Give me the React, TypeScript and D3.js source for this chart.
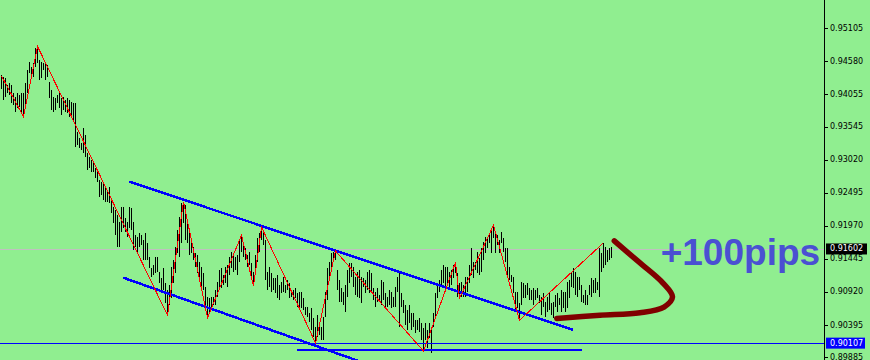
import React, { useEffect } from 'react';
import * as d3 from 'd3';

// ---- data (prices) ----
const highs = [
  0.9436, 0.9433, 0.9432, 0.9420, 0.9424, 0.9420, 0.9408, 0.9401, 0.9408, 0.9405,
  0.9408, 0.9408, 0.9424, 0.9444, 0.9457, 0.9449, 0.9455, 0.9479, 0.9482, 0.9460,
  0.9457, 0.9455, 0.9457, 0.9452, 0.9425, 0.9413, 0.9401, 0.9400, 0.9405, 0.9409,
  0.9400, 0.9401, 0.9397, 0.9400, 0.9397, 0.9393, 0.9392, 0.9392, 0.9346, 0.9336,
  0.9328, 0.9352, 0.9341, 0.9313, 0.9306, 0.9301, 0.9297, 0.9289, 0.9286, 0.9270,
  0.9266, 0.9265, 0.9257, 0.9251, 0.9259, 0.9238, 0.9227, 0.9222, 0.9214, 0.9203,
  0.9227, 0.9227, 0.9209, 0.9203, 0.9227, 0.9225, 0.9203, 0.9182, 0.9179, 0.9186,
  0.9182, 0.9174, 0.9186, 0.9170, 0.9147,
  0.9130, 0.9135, 0.9147, 0.9147, 0.9124, 0.9114, 0.9130, 0.9106, 0.9095, 0.9103,
  0.9132, 0.9143, 0.9163, 0.9190, 0.9211, 0.9233, 0.9235, 0.9230, 0.9201, 0.9186,
  0.9171, 0.9163, 0.9154, 0.9151, 0.9139, 0.9132, 0.9122, 0.9100, 0.9084, 0.9082,
  0.9084, 0.9084, 0.9095, 0.9108, 0.9127, 0.9130, 0.9119, 0.9132, 0.9135, 0.9147,
  0.9155, 0.9151, 0.9147, 0.9151, 0.9174, 0.9182, 0.9166, 0.9162, 0.9151, 0.9155,
  0.9138, 0.9124, 0.9151, 0.9178, 0.9186, 0.9195, 0.9190, 0.9174, 0.9124, 0.9132,
  0.9122, 0.9114, 0.9114, 0.9119, 0.9103, 0.9108, 0.9116, 0.9103, 0.9111, 0.9106,
  0.9095, 0.9095, 0.9098, 0.9090, 0.9092, 0.9092, 0.9082, 0.9068, 0.9068, 0.9058,
  0.9066, 0.9051, 0.9036, 0.9055, 0.9043, 0.9036, 0.9052, 0.9092, 0.9130, 0.9139,
  0.9154, 0.9155, 0.9157, 0.9127, 0.9111, 0.9098, 0.9092, 0.9103, 0.9127, 0.9138,
  0.9138, 0.9132, 0.9116, 0.9124, 0.9127, 0.9116, 0.9114, 0.9111, 0.9124, 0.9127,
  0.9122, 0.9098, 0.9092, 0.9098, 0.9087, 0.9111, 0.9108, 0.9090, 0.9084, 0.9095,
  0.9092, 0.9084, 0.9100, 0.9116, 0.9122, 0.9090, 0.9079, 0.9071, 0.9063, 0.9071,
  0.9058, 0.9058, 0.9047, 0.9047, 0.9051, 0.9043, 0.9035, 0.9043, 0.9032, 0.9043,
  0.9036, 0.9058, 0.9090, 0.9106, 0.9111, 0.9127, 0.9135, 0.9132, 0.9132, 0.9124,
  0.9127, 0.9135, 0.9139, 0.9122, 0.9106, 0.9108, 0.9103,
  0.9116, 0.9116, 0.9135, 0.9162, 0.9139, 0.9139, 0.9155, 0.9146, 0.9162, 0.9171,
  0.9179, 0.9178, 0.9182, 0.9190, 0.9198, 0.9187, 0.9182, 0.9174, 0.9187, 0.9178,
  0.9162, 0.9162, 0.9132, 0.9119, 0.9116, 0.9092, 0.9092, 0.9074, 0.9108, 0.9106,
  0.9103, 0.9106, 0.9098, 0.9095, 0.9098, 0.9095, 0.9098, 0.9087, 0.9084, 0.9090,
  0.9076, 0.9084, 0.9090, 0.9074, 0.9076, 0.9087, 0.9090, 0.9082, 0.9095, 0.9092,
  0.9092, 0.9108, 0.9111, 0.9124, 0.9130, 0.9124, 0.9116, 0.9116, 0.9103, 0.9087,
  0.9095, 0.9087, 0.9103, 0.9114, 0.9111, 0.9114, 0.9108, 0.9162, 0.9154, 0.9170,
  0.9163, 0.9159, 0.9162, 0.9163,
];
const lows = [
  0.9414, 0.9397, 0.9401, 0.9408, 0.9405, 0.9392, 0.9389, 0.9378, 0.9384, 0.9386,
  0.9376, 0.9370, 0.9384, 0.9408, 0.9440, 0.9436, 0.9433, 0.9449, 0.9455, 0.9428,
  0.9432, 0.9444, 0.9428, 0.9433, 0.9400, 0.9381, 0.9378, 0.9381, 0.9392, 0.9384,
  0.9373, 0.9381, 0.9378, 0.9376, 0.9370, 0.9373, 0.9365, 0.9322, 0.9325, 0.9320,
  0.9317, 0.9313, 0.9306, 0.9286, 0.9289, 0.9282, 0.9282, 0.9273, 0.9266, 0.9243,
  0.9246, 0.9238, 0.9235, 0.9235, 0.9233, 0.9217, 0.9201, 0.9182, 0.9163, 0.9163,
  0.9187, 0.9193, 0.9187, 0.9179, 0.9193, 0.9190, 0.9159, 0.9163, 0.9154, 0.9163,
  0.9166, 0.9143, 0.9143, 0.9143, 0.9130,
  0.9116, 0.9119, 0.9122, 0.9124, 0.9106, 0.9090, 0.9095, 0.9074, 0.9055, 0.9071,
  0.9082, 0.9106, 0.9122, 0.9154, 0.9147, 0.9170, 0.9201, 0.9174, 0.9170, 0.9151,
  0.9154, 0.9143, 0.9132, 0.9122, 0.9116, 0.9100, 0.9095, 0.9071, 0.9051, 0.9058,
  0.9066, 0.9071, 0.9071, 0.9084, 0.9095, 0.9098, 0.9103, 0.9106, 0.9100, 0.9119,
  0.9130, 0.9124, 0.9127, 0.9119, 0.9139, 0.9155, 0.9147, 0.9143, 0.9132, 0.9135,
  0.9114, 0.9101, 0.9119, 0.9139, 0.9155, 0.9174, 0.9166, 0.9111, 0.9095, 0.9100,
  0.9092, 0.9095, 0.9090, 0.9082, 0.9079, 0.9090, 0.9092, 0.9090, 0.9095, 0.9082,
  0.9084, 0.9079, 0.9082, 0.9068, 0.9066, 0.9066, 0.9063, 0.9055, 0.9052, 0.9044,
  0.9032, 0.9020, 0.9011, 0.9020, 0.9024, 0.9016, 0.9016, 0.9052, 0.9079, 0.9111,
  0.9127, 0.9139, 0.9143, 0.9095, 0.9076, 0.9076, 0.9071, 0.9060, 0.9084, 0.9106,
  0.9116, 0.9100, 0.9087, 0.9084, 0.9082, 0.9074, 0.9100, 0.9090, 0.9095, 0.9090,
  0.9090, 0.9079, 0.9068, 0.9076, 0.9076, 0.9071, 0.9079, 0.9066, 0.9068, 0.9071,
  0.9066, 0.9068, 0.9068, 0.9092, 0.9036, 0.9068, 0.9058, 0.9039, 0.9032, 0.9043,
  0.9032, 0.9036, 0.9027, 0.9032, 0.9028, 0.9016, 0.8998, 0.9016, 0.9003, 0.9019,
  0.8995, 0.9036, 0.9052, 0.9082, 0.9092, 0.9103, 0.9106, 0.9098, 0.9103, 0.9098,
  0.9103, 0.9114, 0.9122, 0.9084, 0.9082, 0.9084, 0.9084,
  0.9084, 0.9092, 0.9106, 0.9119, 0.9114, 0.9127, 0.9122, 0.9119, 0.9124, 0.9143,
  0.9154, 0.9162, 0.9170, 0.9154, 0.9178, 0.9154, 0.9166, 0.9154, 0.9170, 0.9155,
  0.9139, 0.9116, 0.9111, 0.9108, 0.9090, 0.9060, 0.9066, 0.9047, 0.9071, 0.9082,
  0.9082, 0.9087, 0.9079, 0.9079, 0.9071, 0.9079, 0.9082, 0.9074, 0.9055, 0.9068,
  0.9052, 0.9060, 0.9063, 0.9055, 0.9051, 0.9068, 0.9060, 0.9071, 0.9060, 0.9066,
  0.9060, 0.9066, 0.9082, 0.9100, 0.9098, 0.9087, 0.9084, 0.9095, 0.9076, 0.9074,
  0.9071, 0.9071, 0.9087, 0.9084, 0.9090, 0.9090, 0.9095, 0.9084, 0.9124, 0.9130,
  0.9135, 0.9139, 0.9143, 0.9146,
];

// zigzag pivots: bar index and price
const pivotIdx = [0, 11, 18, 83, 91, 103, 120, 126, 130, 157, 167, 211, 227, 229, 246, 259, 301];
const pivotPrice = [0.9435, 0.9370, 0.9482, 0.9055, 0.9235, 0.9051, 0.9182, 0.9101, 0.9195, 0.9011, 0.9157, 0.8998, 0.9139, 0.9082, 0.9198, 0.9047, 0.9170];

// price axis
const tickValues = [0.95105, 0.9458, 0.94055, 0.93545, 0.9302, 0.92495, 0.9197, 0.91445, 0.9092, 0.90395, 0.89885];
const bidPrice = 0.91602;
const levelPrice = 0.90107;

// drawn objects (bar index, price)
const upperTrendIdx = [63.9, 285.9];
const upperTrendPrice = [0.9267, 0.90315];
const lowerTrendIdx = [60.9, 180.25];
const lowerTrendPrice = [0.91146, 0.89804];
const supportIdx = [147.6, 290.1];
const supportPrice = 0.89998;
const arrowIdx = [306.4, 319.25, 330.75, 335.5, 331.25, 319.25, 299.25, 277.6];
const arrowPrice = [0.9173, 0.9138, 0.9106, 0.9084, 0.9068, 0.9059, 0.9055, 0.905];
const noteText = '+100pips';
const noteIdx = 329.6;
const noteP = 0.9135;

const W = 870;
const H = 360;
const AXIS_X = 824.5;

export default function App() {
  useEffect(() => {
    document.body.style.margin = '0';
  }, []);

  const x = d3.scaleLinear().domain([0, 305]).range([1.5, 611.5]);
  const y = d3.scaleLinear().domain([0.95105, 0.90395]).range([28.3, 325]);

  const zz = d3
    .line<number>()
    .x((d) => x(d))
    .y((_, k) => y(pivotPrice[k]))(pivotIdx);

  const arrow = d3
    .line<number>()
    .x((d) => x(d))
    .y((_, k) => y(arrowPrice[k]))
    .curve(d3.curveCatmullRom.alpha(0.5))(arrowIdx);

  const fmt = d3.format('.5f');

  return (
    <svg
      width={W}
      height={H}
      style={{ position: 'absolute', left: 0, top: 0, display: 'block' }}
      xmlns="http://www.w3.org/2000/svg"
    >
      <defs>
        <clipPath id="plot">
          <rect x={0} y={0} width={AXIS_X} height={H} />
        </clipPath>
      </defs>
      <rect x={0} y={0} width={W} height={H} fill="#90EE90" />
      <g clipPath="url(#plot)">
        {/* bid line */}
        <line x1={0} x2={AXIS_X} y1={Math.round(y(bidPrice)) + 0.5} y2={Math.round(y(bidPrice)) + 0.5} stroke="#c0c0c0" strokeWidth={1} />
        {/* bars */}
        <g fill="#000" shapeRendering="crispEdges">
          {highs.map((h, i) => {
            const top = Math.round(y(h));
            const bot = Math.round(y(lows[i]));
            return <rect key={i} x={x(i) - 0.5} y={top} width={1} height={Math.max(1, bot - top)} />;
          })}
        </g>
        {/* horizontal level */}
        <line x1={0} x2={AXIS_X} y1={Math.round(y(levelPrice)) + 0.5} y2={Math.round(y(levelPrice)) + 0.5} stroke="#0000ff" strokeWidth={1} shapeRendering="crispEdges" />
        {/* support segment */}
        <line x1={x(supportIdx[0])} x2={x(supportIdx[1])} y1={y(supportPrice)} y2={y(supportPrice)} stroke="#0000ff" strokeWidth={2.5} shapeRendering="crispEdges" />
        {/* trend lines */}
        <line x1={x(upperTrendIdx[0])} x2={x(upperTrendIdx[1])} y1={y(upperTrendPrice[0])} y2={y(upperTrendPrice[1])} stroke="#0000ff" strokeWidth={2.5} shapeRendering="crispEdges" />
        <line x1={x(lowerTrendIdx[0])} x2={x(lowerTrendIdx[1])} y1={y(lowerTrendPrice[0])} y2={y(lowerTrendPrice[1])} stroke="#0000ff" strokeWidth={2.5} shapeRendering="crispEdges" />
        {/* zigzag */}
        <path d={zz || ''} fill="none" stroke="#ff0000" strokeWidth={1} shapeRendering="crispEdges" />
        {/* arrow */}
        <path d={arrow || ''} fill="none" stroke="#800000" strokeWidth={5.5} strokeLinecap="round" strokeLinejoin="round" />
        <text
          x={x(noteIdx)}
          y={y(noteP)}
          fontFamily="'Liberation Sans', Arial, sans-serif"
          fontWeight="bold"
          fontSize={37}
          fill="#4a50d2"
        >
          {noteText}
        </text>
      </g>
      {/* price axis */}
      <line x1={AXIS_X} x2={AXIS_X} y1={0} y2={H} stroke="#000" strokeWidth={1} shapeRendering="crispEdges" />
      <g fontFamily="'DejaVu Sans', sans-serif" fontSize={8} fill="#000">
        {tickValues.map((t) => (
          <g key={t}>
            <line x1={AXIS_X} x2={AXIS_X + 3} y1={Math.round(y(t)) + 0.5} y2={Math.round(y(t)) + 0.5} stroke="#000" shapeRendering="crispEdges" />
            <text x={830} y={y(t)} dominantBaseline="central">
              {fmt(t)}
            </text>
          </g>
        ))}
      </g>
      <rect x={826} y={y(bidPrice) - 5.5} width={41} height={11} fill="#000" />
      <text x={830} y={y(bidPrice)} dominantBaseline="central" fontFamily="'DejaVu Sans', sans-serif" fontSize={8} fill="#fff">
        {fmt(bidPrice)}
      </text>
      <rect x={826} y={y(levelPrice) - 5.5} width={39} height={11} fill="#0000ff" />
      <text x={830} y={y(levelPrice)} dominantBaseline="central" fontFamily="'DejaVu Sans', sans-serif" fontSize={8} fill="#fff">
        {fmt(levelPrice)}
      </text>
    </svg>
  );
}
